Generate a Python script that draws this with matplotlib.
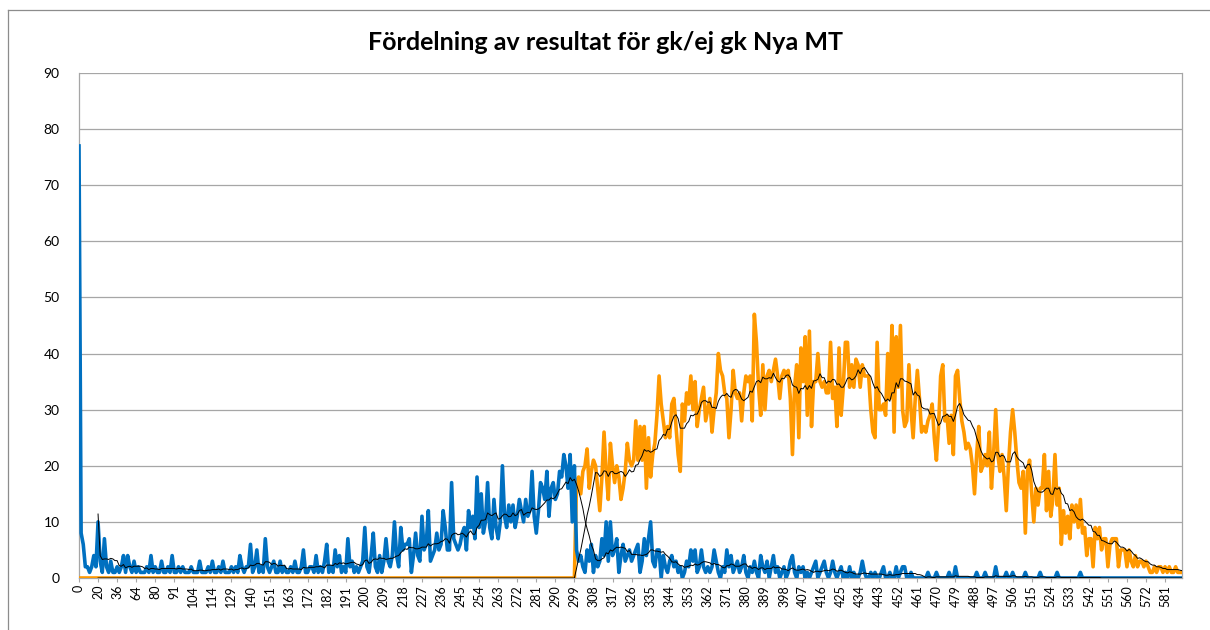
"""
Fördelning av resultat för gk/ej gk Nya MT
Line chart of two result distributions with 10-point moving averages.
"""

import matplotlib
matplotlib.use("Agg")
import matplotlib.pyplot as plt
from matplotlib.lines import Line2D
import pandas as pd

# ── Data ───────────────────────────────────────────────────────────────────────
TITLE = "Fördelning av resultat för gk/ej gk Nya MT"

# category labels shown on the x axis (every 9th category)
TICK_LABELS = [0, 20, 36, 64, 80, 91, 104, 114, 129, 140, 151, 163, 172, 182,
               191, 200, 209, 218, 227, 236, 245, 254, 263, 272, 281, 290,
               299, 308, 317, 326, 335, 344, 353, 362, 371, 380, 389, 398,
               407, 416, 425, 434, 443, 452, 461, 470, 479, 488, 497, 506,
               515, 524, 533, 542, 551, 560, 572, 581]
TICK_STEP = 9

# ej gk (blue)
EJ_GK = [
    77, 8, 6, 2, 2, 1, 2, 4, 2, 10,
    3, 1, 7, 2, 1, 3, 1, 1, 2, 1,
    2, 4, 1, 4, 2, 1, 3, 1, 2, 1,
    1, 1, 2, 1, 4, 1, 2, 1, 1, 3,
    1, 1, 2, 1, 4, 1, 1, 2, 1, 2,
    1, 1, 1, 2, 1, 1, 1, 3, 1, 1,
    1, 2, 1, 3, 1, 1, 2, 1, 3, 1,
    1, 1, 2, 1, 2, 1, 4, 2, 1, 2,
    2, 6, 1, 2, 5, 1, 2, 1, 7, 2,
    1, 2, 3, 1, 1, 3, 1, 2, 1, 1,
    2, 1, 3, 1, 1, 2, 5, 1, 1, 2,
    2, 1, 4, 1, 2, 1, 3, 6, 1, 2,
    1, 5, 2, 4, 1, 2, 1, 7, 2, 3,
    1, 2, 1, 2, 3, 9, 2, 1, 4, 8,
    2, 1, 4, 1, 3, 7, 3, 2, 4, 10,
    4, 2, 9, 5, 6, 6, 7, 1, 4, 8,
    4, 3, 11, 5, 6, 12, 3, 4, 5, 8,
    5, 6, 12, 9, 5, 5, 17, 7, 6, 5,
    6, 8, 9, 5, 12, 9, 11, 7, 18, 9,
    15, 8, 10, 17, 9, 7, 14, 9, 7, 10,
    20, 11, 9, 13, 10, 13, 9, 11, 14, 12,
    10, 14, 11, 12, 19, 11, 8, 12, 17, 16,
    14, 19, 11, 16, 17, 14, 15, 19, 18, 22,
    20, 16, 22, 10, 20, 5, 3, 4, 2, 1,
    5, 3, 6, 1, 4, 2, 3, 7, 4, 10,
    3, 10, 4, 5, 7, 1, 4, 6, 3, 4,
    5, 3, 4, 5, 6, 1, 3, 7, 4, 7,
    10, 3, 2, 5, 5, 0, 4, 2, 1, 3,
    4, 2, 3, 1, 2, 0, 1, 3, 2, 5,
    3, 5, 1, 2, 5, 2, 1, 2, 1, 2,
    5, 3, 1, 0, 2, 1, 5, 2, 4, 1,
    2, 3, 1, 2, 4, 1, 0, 2, 1, 3,
    1, 0, 4, 2, 1, 3, 0, 2, 4, 1,
    2, 0, 1, 2, 0, 1, 3, 4, 1, 0,
    2, 1, 2, 0, 1, 0, 1, 2, 3, 0,
    1, 2, 3, 1, 0, 1, 3, 1, 0, 1,
    2, 0, 1, 0, 2, 0, 1, 0, 0, 1,
    3, 1, 0, 0, 1, 0, 1, 0, 0, 1,
    2, 0, 0, 1, 0, 0, 2, 0, 1, 2,
    2, 0, 0, 1, 0, 0, 0, 0, 0, 0,
    0, 1, 0, 0, 0, 1, 0, 0, 0, 0,
    0, 1, 0, 0, 2, 0, 0, 0, 0, 0,
    0, 0, 0, 0, 1, 0, 0, 0, 1, 0,
    0, 0, 0, 2, 0, 0, 0, 0, 1, 0,
    0, 1, 0, 0, 0, 0, 0, 1, 0, 0,
    0, 0, 0, 0, 1, 0, 0, 0, 0, 0,
    0, 0, 1, 0, 0, 0, 0, 0, 0, 0,
    0, 0, 0, 1, 0, 0, 0, 0, 0, 0,
] + [0] * 42

# gk (orange) – zero for every category below 299
GK = [0] * 235 + [
    17, 18, 15, 19, 20,
    23, 16, 19, 21, 20, 16, 12, 18, 26, 19,
    14, 24, 20, 17, 20, 18, 14, 16, 19, 24,
    21, 20, 21, 28, 21, 27, 21, 27, 16, 25,
    18, 22, 24, 29, 36, 31, 28, 25, 27, 25,
    31, 32, 27, 22, 19, 31, 28, 33, 31, 36,
    30, 35, 27, 30, 32, 34, 28, 30, 32, 26,
    30, 33, 40, 37, 36, 33, 32, 25, 30, 37,
    33, 32, 33, 28, 33, 36, 35, 36, 28, 47,
    42, 34, 29, 38, 30, 36, 37, 35, 37, 39,
    36, 32, 36, 37, 36, 37, 32, 22, 34, 38,
    25, 41, 35, 43, 29, 44, 27, 35, 35, 40,
    35, 34, 35, 33, 33, 42, 32, 34, 27, 41,
    29, 34, 42, 42, 34, 38, 34, 39, 38, 34,
    38, 36, 36, 36, 30, 26, 25, 42, 30, 30,
    31, 29, 40, 32, 45, 26, 43, 34, 45, 30,
    27, 28, 38, 30, 25, 32, 37, 32, 26, 27,
    26, 28, 29, 31, 25, 21, 27, 36, 38, 28,
    29, 24, 29, 22, 36, 37, 32, 28, 26, 23,
    24, 23, 20, 15, 22, 27, 19, 20, 22, 20,
    26, 16, 22, 30, 22, 19, 22, 18, 12, 20,
    26, 30, 26, 21, 17, 16, 19, 8, 19, 21,
    15, 10, 16, 13, 16, 16, 22, 12, 19, 11,
    14, 22, 13, 16, 6, 12, 8, 11, 7, 13,
    10, 13, 9, 14, 8, 9, 4, 7, 7, 2,
    9, 7, 9, 5, 7, 7, 2, 6, 7, 7,
    7, 2, 5, 5, 5, 2, 5, 3, 2, 4,
    2, 3, 3, 2, 3, 2, 1, 1, 2, 1,
    2, 2, 1, 2, 1, 2, 1, 1, 2, 1, 1, 1,
]

MA_PERIOD = 10

BLUE   = "#0070C0"
ORANGE = "#FF9900"
GRID   = "#A6A6A6"
FONT   = ["Lato", "DejaVu Sans"]


def main():
    plt.rcParams["font.family"] = FONT

    n = len(EJ_GK)
    x = range(n)
    ej_ma = pd.Series(EJ_GK, dtype=float).rolling(MA_PERIOD).mean()
    gk_ma = pd.Series(GK, dtype=float).rolling(MA_PERIOD).mean()

    fig = plt.figure(figsize=(12.1, 6.3), dpi=100)
    ax = fig.add_axes([79 / 1210, 1 - 578 / 630, (1182 - 79) / 1210, (578 - 73) / 630])

    # ── series ──
    ax.plot(x, GK, color=ORANGE, linewidth=2.6, solid_joinstyle="round", zorder=3)
    ax.plot(x, EJ_GK, color=BLUE, linewidth=2.6, solid_joinstyle="round", zorder=4)
    ax.plot(x, gk_ma, color="black", linewidth=0.7, zorder=5)
    ax.plot(x, ej_ma, color="black", linewidth=0.7, zorder=5)

    # ── axes ──
    ax.set_xlim(0, n - 1)
    ax.set_ylim(0, 90)
    ax.set_yticks(range(0, 91, 10))
    ax.tick_params(axis="y", length=0, pad=14, labelsize=10, colors="black")
    ax.set_xticks(range(0, len(TICK_LABELS) * TICK_STEP, TICK_STEP))
    ax.set_xticklabels([str(v) for v in TICK_LABELS], rotation=90, fontsize=9)
    ax.tick_params(axis="x", length=3, pad=2, color=GRID)
    ax.yaxis.grid(True, color=GRID, linewidth=0.9)
    ax.set_axisbelow(True)
    for side in ["left", "right", "bottom"]:
        ax.spines[side].set_color(GRID)
        ax.spines[side].set_linewidth(0.9)
    ax.spines["top"].set_visible(False)

    fig.text(0.5, 1 - 42 / 630, TITLE, ha="center", va="center",
             fontsize=18, fontweight="bold")

    # chart area border (top and left visible)
    fig.add_artist(Line2D([8 / 1210, 1], [1 - 10 / 630] * 2, color="#8C8C8C", linewidth=0.9))
    fig.add_artist(Line2D([8 / 1210] * 2, [0, 1 - 10 / 630], color="#8C8C8C", linewidth=0.9))

    fig.savefig("out.png", dpi=100)
    plt.close(fig)


if __name__ == "__main__":
    main()
